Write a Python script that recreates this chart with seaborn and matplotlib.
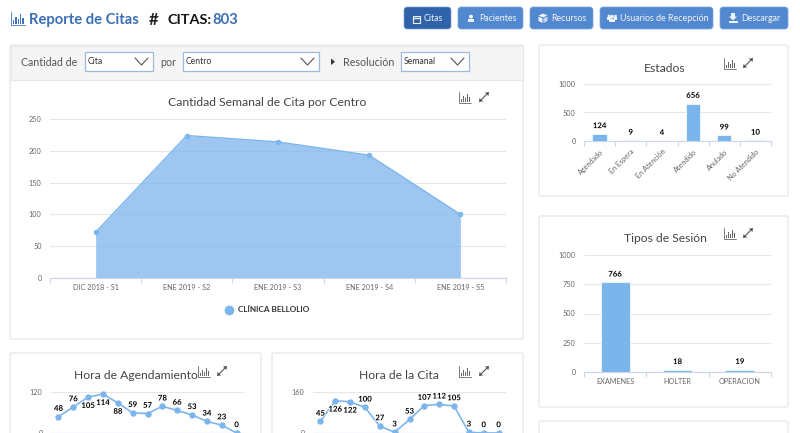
import matplotlib
matplotlib.use("agg")
import matplotlib.pyplot as plt
import matplotlib.patheffects as pe
from matplotlib.lines import Line2D
from matplotlib.patches import FancyBboxPatch, Rectangle, Polygon, Circle
import numpy as np
import pandas as pd
import seaborn as sns

semanas = ['DIC 2018 - S1', 'ENE 2019 - S2', 'ENE 2019 - S3', 'ENE 2019 - S4', 'ENE 2019 - S5']
citas_semana = [72, 224, 214, 193, 100]

estados = ['Agendado', 'En Espera', 'En Atención', 'Atendido', 'Anulado', 'No Atendido']
citas_estado = [124, 9, 4, 656, 99, 10]

tipos = ['EXAMENES', 'HOLTER', 'OPERACION']
citas_tipo = [766, 18, 19]

horas = list(range(13))
hora_agendamiento = [48, 76, 105, 114, 88, 59, 57, 78, 66, 53, 34, 23, 0]
hora_cita = [45, 126, 122, 100, 27, 3, 53, 107, 112, 105, 3, 0, 0]

BLUE = '#7cb5ec'
GRID = '#e6e6e6'
AXIS = '#ccd6eb'
TICK = '#666666'
TITLE = '#444444'
ICON = '#eef3fb'

sns.set_theme(style="white")
plt.rcParams['font.family'] = ['Lato', 'DejaVu Sans']

fig = plt.figure(figsize=(8, 4.33), dpi=100)
fig.patch.set_facecolor('white')
W, H = 800.0, 433.0

# page layer in pixel coordinates
bg = fig.add_axes([0, 0, 1, 1], zorder=0)
bg.set_xlim(0, W)
bg.set_ylim(H, 0)
bg.axis('off')


def panel(x0, y0, x1, y1):
    bg.add_patch(FancyBboxPatch((x0, y0), x1 - x0, y1 - y0, boxstyle='round,pad=0,rounding_size=2',
                                fc='white', ec='#e6e6e6', lw=0.9))


def button(x0, x1, label, color, tx):
    bg.add_patch(FancyBboxPatch((x0, 7), x1 - x0, 22, boxstyle='round,pad=0,rounding_size=3',
                                fc=color, ec='#7fa6dc', lw=0.5))
    bg.text(tx, 18.5, label, color='#f2f6fc', fontsize=6.4, va='center')


def select(x0, x1, label):
    bg.add_patch(Rectangle((x0, 52), x1 - x0, 19, fc='white', ec='#9db9de', lw=0.9))
    bg.text(x0 + 3, 62, label, color='#333333', fontsize=6.2, va='center')
    bg.plot([x1 - 18, x1 - 11.5, x1 - 5], [58, 65, 58], color='#555555', lw=0.8)


def bars_icon(x, y, color='#666666', s=1.0):
    bg.plot([x, x, x + 12 * s], [y - 11 * s, y, y], color=color, lw=0.6)
    for i, h in enumerate([3, 6, 4, 8, 5]):
        bg.add_patch(Rectangle((x + (1.5 + 2 * i) * s, y - 1 - h * s), 1.1 * s, h * s, fc=color, ec='none'))


def expand_icon(x, y):
    bg.plot([x - 3, x + 3], [y + 3, y - 3], color='#555555', lw=0.8)
    bg.add_patch(Polygon([[x + 5, y - 5], [x + 1, y - 4.5], [x + 4.5, y - 1]], fc='#555555', ec='none'))
    bg.add_patch(Polygon([[x - 5, y + 5], [x - 1, y + 4.5], [x - 4.5, y + 1]], fc='#555555', ec='none'))


def person(x, y, s=1.0):
    bg.add_patch(Circle((x, y - 2.4 * s), 2 * s, fc=ICON, ec='none'))
    bg.add_patch(Rectangle((x - 3 * s, y - 0.4 * s), 6 * s, 3.6 * s, fc=ICON, ec='none'))


# header
bars_icon(11, 25, '#3f74bb', 1.2)
bg.text(29, 20, 'Reporte de Citas', color='#3a6fb5', fontsize=10.6, fontweight='bold', va='center')
bg.text(149, 20, '#', color='#222222', fontsize=12, fontweight='bold', va='center')
bg.text(167, 20, 'CITAS:', color='#111111', fontsize=10.4, fontweight='bold', va='center')
bg.text(212, 20, '803', color='#3a6fb5', fontsize=10.6, fontweight='bold', va='center')

button(404, 451, 'Citas', '#2f62a8', 424)
button(458, 523, 'Pacientes', '#5188d0', 479)
button(530, 593, 'Recursos', '#5188d0', 551)
button(600, 713, 'Usuarios de Recepción', '#5188d0', 620)
button(720, 788, 'Descargar', '#5188d0', 741)
# button icons
bg.add_patch(Rectangle((412.5, 15.5), 7, 7, fc='none', ec=ICON, lw=0.8))
bg.plot([412.5, 419.5], [17.8, 17.8], color=ICON, lw=1)
person(471, 19)
bg.add_patch(Polygon([[543, 13.5], [547.5, 15.5], [543, 17.5], [538.5, 15.5]], fc=ICON, ec='none'))
bg.add_patch(Polygon([[538.5, 16.5], [542.5, 18.5], [542.5, 23], [538.5, 21]], fc=ICON, ec='none'))
bg.add_patch(Polygon([[547.5, 16.5], [543.5, 18.5], [543.5, 23], [547.5, 21]], fc='#c8d8ef', ec='none'))
person(612, 19, 0.95)
person(609, 17.5, 0.65)
person(615.5, 17.5, 0.65)
bg.add_patch(Polygon([[731, 13], [735, 13], [735, 16.5], [737, 16.5], [733, 20.5], [729, 16.5], [731, 16.5]],
                     fc=ICON, ec='none'))
bg.add_patch(Rectangle((728.5, 20.5), 9, 2.5, fc=ICON, ec='none'))

# panels
panel(10, 45, 523, 339)
bg.add_patch(Rectangle((10.5, 45.5), 512, 34.5, fc='#f5f5f5', ec='#e6e6e6', lw=0.8))
panel(539, 45, 788, 196)
panel(539, 216, 788, 407)
panel(539, 421, 788, 445)
panel(10, 353, 261, 445)
panel(272, 353, 523, 445)

# filter bar
bg.text(21, 62, 'Cantidad de', color='#555555', fontsize=7.7, va='center')
select(85, 153, 'Cita')
bg.text(160, 62, 'por', color='#555555', fontsize=7.7, va='center')
select(183, 319, 'Centro')
bg.add_patch(Polygon([[331, 58.5], [331, 65], [335, 61.8]], fc='#333333', ec='none'))
bg.text(343, 62, 'Resolución', color='#555555', fontsize=7.7, va='center')
select(401, 469, 'Semanal')

# chart titles and their icons
for tx, ty, title in [(267, 102.5, 'Cantidad Semanal de Cita por Centro'),
                      (665, 68, 'Estados'),
                      (665, 239, 'Tipos de Sesión'),
                      (136, 375.5, 'Hora de Agendamiento'),
                      (399, 375.5, 'Hora de la Cita')]:
    bg.text(tx, ty, title, color=TITLE, fontsize=8.7, ha='center', va='center')
for ix, ex, iy in [(459, 484, 103), (724, 748, 69), (724, 748, 239), (198, 222, 377), (459, 484, 377)]:
    bars_icon(ix, iy)
    expand_icon(ex, iy - 6)


def px_axes(x0, y0, x1, y1):
    ax = fig.add_axes([x0 / W, 1 - y1 / H, (x1 - x0) / W, (y1 - y0) / H], zorder=2)
    ax.patch.set_alpha(0)
    return ax


def style_axes(ax, n, ymax, yticks, labels=None, rot=0, tick_size=5.2):
    ax.set_xlim(-0.5, n - 0.5)
    ax.set_ylim(0, ymax)
    ax.set_yticks(yticks)
    ax.set_xlabel('')
    ax.set_ylabel('')
    ax.grid(axis='y', color=GRID, lw=0.8)
    ax.set_axisbelow(True)
    for side in ['top', 'left', 'right']:
        ax.spines[side].set_visible(False)
    ax.spines['bottom'].set_color(AXIS)
    ax.spines['bottom'].set_linewidth(0.8)
    ax.tick_params(axis='y', length=0, labelsize=tick_size, labelcolor=TICK, pad=6)
    ax.set_xticks(np.arange(-0.5, n), minor=True)
    ax.tick_params(axis='x', which='minor', bottom=True, length=3.6, color=AXIS, width=0.8)
    if labels is None:
        ax.set_xticks([])
    elif rot:
        ax.set_xticks(range(n))
        ax.set_xticklabels(labels, rotation=rot, ha='right', rotation_mode='anchor')
        ax.tick_params(axis='x', which='major', length=0, labelsize=tick_size, labelcolor=TICK, pad=5)
    else:
        ax.set_xticks(range(n))
        ax.set_xticklabels(labels)
        ax.tick_params(axis='x', which='major', length=0, labelsize=tick_size, labelcolor=TICK, pad=4.5)


OUTLINE = [pe.withStroke(linewidth=1.4, foreground='white')]


def data_label(ax, x, y, txt, dy):
    ax.annotate(txt, (x, y), xytext=(0, dy), textcoords='offset points', ha='center', va='center',
                fontsize=5.6, fontweight='bold', color='black', path_effects=OUTLINE,
                annotation_clip=False, clip_on=False)


# main area chart
df_sem = pd.DataFrame({'semana': semanas, 'citas': citas_semana})
ax = px_axes(50, 119, 506, 278)
pos = np.arange(len(semanas))
ax.fill_between(pos, 0, citas_semana, color=BLUE, alpha=0.75, lw=0)
sns.lineplot(x=pos, y=df_sem['citas'], ax=ax, color=BLUE, lw=1.0, marker='o', markersize=3.2,
             markeredgecolor=BLUE, errorbar=None)
style_axes(ax, 5, 250, [0, 50, 100, 150, 200, 250], semanas)
ax.legend(handles=[Line2D([], [], color=BLUE, marker='o', ls='', markersize=6, label='CLÍNICA BELLOLIO')],
          loc='center', bbox_to_anchor=(265.5 / W, 1 - 310 / H), bbox_transform=fig.transFigure, frameon=False,
          handletextpad=0.1, prop={'size': 5.9, 'weight': 'bold'}, labelcolor='#333333')

# estados
df_est = pd.DataFrame({'estado': estados, 'citas': citas_estado})
ax = px_axes(584, 84, 771, 141)
sns.barplot(data=df_est, x='estado', y='citas', ax=ax, color=BLUE, saturation=1, width=0.46,
            edgecolor='white', linewidth=0.5)
style_axes(ax, 6, 1000, [0, 500, 1000], estados, rot=45)
for i, v in enumerate(citas_estado):
    data_label(ax, i, v, str(v), 6)

# tipos de sesion
df_tip = pd.DataFrame({'tipo': tipos, 'citas': citas_tipo})
ax = px_axes(584, 255, 771, 372)
sns.barplot(data=df_tip, x='tipo', y='citas', ax=ax, color=BLUE, saturation=1, width=0.47,
            edgecolor='white', linewidth=0.5)
style_axes(ax, 3, 1000, [0, 250, 500, 750, 1000], tipos)
for i, v in enumerate(citas_tipo):
    data_label(ax, i, v, str(v), 6)

# lower line charts, cut by the bottom of the page
abajo_agendamiento = {2, 3, 4}
ax = px_axes(51, 392, 244, 433)
sns.lineplot(x=horas, y=hora_agendamiento, ax=ax, color=BLUE, lw=1.2, marker='o', markersize=3.8,
             markeredgecolor=BLUE, errorbar=None, clip_on=False)
style_axes(ax, 13, 120, [0, 120])
for i, v in enumerate(hora_agendamiento):
    data_label(ax, i, v, str(v), -6 if i in abajo_agendamiento else 6)

abajo_cita = {1, 2}
ax = px_axes(313, 392, 506, 433)
sns.lineplot(x=horas, y=hora_cita, ax=ax, color=BLUE, lw=1.2, marker='o', markersize=3.8,
             markeredgecolor=BLUE, errorbar=None, clip_on=False)
style_axes(ax, 13, 160, [0, 160])
for i, v in enumerate(hora_cita):
    data_label(ax, i, v, str(v), -6 if i in abajo_cita else 6)

fig.savefig('out.png', dpi=100)
plt.close('all')
